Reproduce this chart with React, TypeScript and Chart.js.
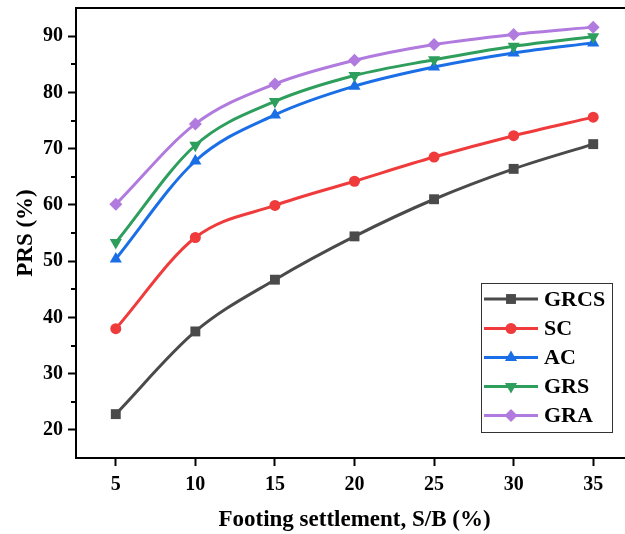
import React, { useEffect, useRef } from "react";
import { Chart, registerables } from "chart.js";

Chart.register(...registerables);

const settlement = [5, 10, 15, 20, 25, 30, 35];
const xTickValues = [5, 10, 15, 20, 25, 30, 35];
const yTickValues = [20, 30, 40, 50, 60, 70, 80, 90];
const yMinorValues = [25, 35, 45, 55, 65, 75, 85];

const grcs = [22.8, 37.5, 46.7, 54.4, 61.0, 66.4, 70.8];
const sc = [38.0, 54.2, 59.9, 64.2, 68.5, 72.3, 75.6];
const ac = [50.4, 67.8, 76.0, 81.1, 84.5, 87.0, 88.8];
const grs = [53.3, 70.6, 78.4, 83.0, 85.8, 88.2, 89.9];
const gra = [60.1, 74.4, 81.5, 85.7, 88.5, 90.3, 91.6];

const seriesNames = ["GRCS", "SC", "AC", "GRS", "GRA"];
const seriesColors = ["#4a4a4a", "#ef3b3b", "#1a6ee6", "#2e9e5c", "#b07adf"];
const seriesStyles = ["rect", "circle", "triangle", "triangle", "rectRot"];
const seriesRotation = [0, 0, 0, 180, 0];
const seriesRadius = [7, 5.5, 7, 7, 6.5];
const seriesValues = [grcs, sc, ac, grs, gra];

const FONT = "'Liberation Serif', 'Times New Roman', serif";

function drawMarker(ctx: CanvasRenderingContext2D, style: string, rot: number, x: number, y: number, r: number) {
  ctx.beginPath();
  if (style === "rect") {
    const s = Math.SQRT1_2 * r;
    ctx.rect(x - s, y - s, 2 * s, 2 * s);
  } else if (style === "circle") {
    ctx.arc(x, y, r, 0, Math.PI * 2);
  } else if (style === "triangle") {
    let rad = (rot * Math.PI) / 180;
    ctx.moveTo(x + Math.sin(rad) * r, y - Math.cos(rad) * r);
    rad += (2 * Math.PI) / 3;
    ctx.lineTo(x + Math.sin(rad) * r, y - Math.cos(rad) * r);
    rad += (2 * Math.PI) / 3;
    ctx.lineTo(x + Math.sin(rad) * r, y - Math.cos(rad) * r);
    ctx.closePath();
  } else if (style === "rectRot") {
    ctx.moveTo(x, y - r);
    ctx.lineTo(x + r, y);
    ctx.lineTo(x, y + r);
    ctx.lineTo(x - r, y);
    ctx.closePath();
  }
  ctx.fill();
}

const framePlugin = {
  id: "frameAndLegend",
  afterDraw(chart: any) {
    const ctx: CanvasRenderingContext2D = chart.ctx;
    const { left, right, top, bottom } = chart.chartArea;
    ctx.save();
    ctx.strokeStyle = "#000";
    ctx.lineWidth = 2;
    ctx.strokeRect(left, top, right - left, bottom - top);
    const ys = chart.scales.y;
    ctx.beginPath();
    for (const v of yMinorValues) {
      const py = Math.round(ys.getPixelForValue(v));
      ctx.moveTo(left - 5, py);
      ctx.lineTo(left, py);
    }
    ctx.stroke();

    const bx = 481, by = 283, bw = 131, bh = 149;
    ctx.fillStyle = "#fff";
    ctx.fillRect(bx, by, bw, bh);
    ctx.strokeStyle = "#333";
    ctx.lineWidth = 1;
    ctx.strokeRect(bx + 0.5, by + 0.5, bw, bh);
    const rowY = [299, 328.5, 357.5, 386.5, 415.5];
    ctx.font = `bold 22px ${FONT}`;
    ctx.textBaseline = "middle";
    ctx.textAlign = "left";
    seriesNames.forEach((name, i) => {
      const yy = rowY[i];
      ctx.strokeStyle = seriesColors[i];
      ctx.lineWidth = 3;
      ctx.beginPath();
      ctx.moveTo(484, yy);
      ctx.lineTo(538, yy);
      ctx.stroke();
      ctx.fillStyle = seriesColors[i];
      drawMarker(ctx, seriesStyles[i], seriesRotation[i], 511, yy, seriesRadius[i]);
      ctx.fillStyle = "#000";
      ctx.fillText(name, 544, yy + 1);
    });
    ctx.restore();
  },
};

export default function App() {
  const ref = useRef<HTMLCanvasElement | null>(null);
  useEffect(() => {
    if (!ref.current) return;
    Chart.defaults.font.family = FONT;
    const datasets = seriesNames.map((name, i) => ({
      label: name,
      data: settlement.map((x, j) => ({ x, y: seriesValues[i][j] })),
      borderColor: seriesColors[i],
      backgroundColor: seriesColors[i],
      borderWidth: 3,
      pointStyle: seriesStyles[i] as any,
      pointRotation: seriesRotation[i],
      pointRadius: seriesRadius[i],
      pointBorderWidth: 0,
      cubicInterpolationMode: "monotone",
      order: 5 - i,
    }));
    const chart = new Chart(ref.current, {
      type: "line",
      data: { datasets },
      plugins: [framePlugin],
      options: {
        animation: false,
        responsive: false,
        devicePixelRatio: 1,
        layout: { padding: { top: 8, right: 6, left: 0, bottom: 0 } },
        plugins: { legend: { display: false }, tooltip: { enabled: false } },
        scales: {
          x: {
            type: "linear",
            min: 2.5,
            max: 37.5,
            afterBuildTicks: (s: any) => {
              s.ticks = xTickValues.map((v) => ({ value: v }));
            },
            afterFit: (s: any) => {
              s.height = 76;
              s.paddingLeft = 0;
              s.paddingRight = 0;
            },
            grid: { drawOnChartArea: false, drawTicks: true, tickLength: 8, tickWidth: 2, tickColor: "#000" },
            border: { display: true, width: 2, color: "#000" },
            ticks: { color: "#000", font: { size: 20, weight: "bold" }, padding: 7, maxRotation: 0 },
            title: {
              display: true,
              text: "Footing settlement, S/B (%)",
              color: "#000",
              font: { size: 23, weight: "bold" },
              padding: { top: 0, bottom: 0 },
            },
          },
          y: {
            type: "linear",
            min: 15,
            max: 95,
            afterBuildTicks: (s: any) => {
              s.ticks = yTickValues.map((v) => ({ value: v }));
            },
            afterFit: (s: any) => {
              s.width = 76;
              s.paddingTop = 0;
              s.paddingBottom = 0;
            },
            grid: { drawOnChartArea: false, drawTicks: true, tickLength: 8, tickWidth: 2, tickColor: "#000" },
            border: { display: true, width: 2, color: "#000" },
            ticks: { color: "#000", font: { size: 20, weight: "bold" }, padding: 5 },
            title: {
              display: true,
              text: "PRS (%)",
              color: "#000",
              font: { size: 23, weight: "bold" },
              padding: { top: 12, bottom: 0 },
            },
          },
        },
      },
    } as any);
    return () => chart.destroy();
  }, []);
  return (
    <div style={{ position: "absolute", left: 0, top: 0, width: 625, height: 534, overflow: "hidden", background: "#fff" }}>
      <div style={{ position: "relative", width: 640, height: 534 }}>
        <canvas ref={ref} width={640} height={534} style={{ display: "block" }} />
      </div>
    </div>
  );
}
